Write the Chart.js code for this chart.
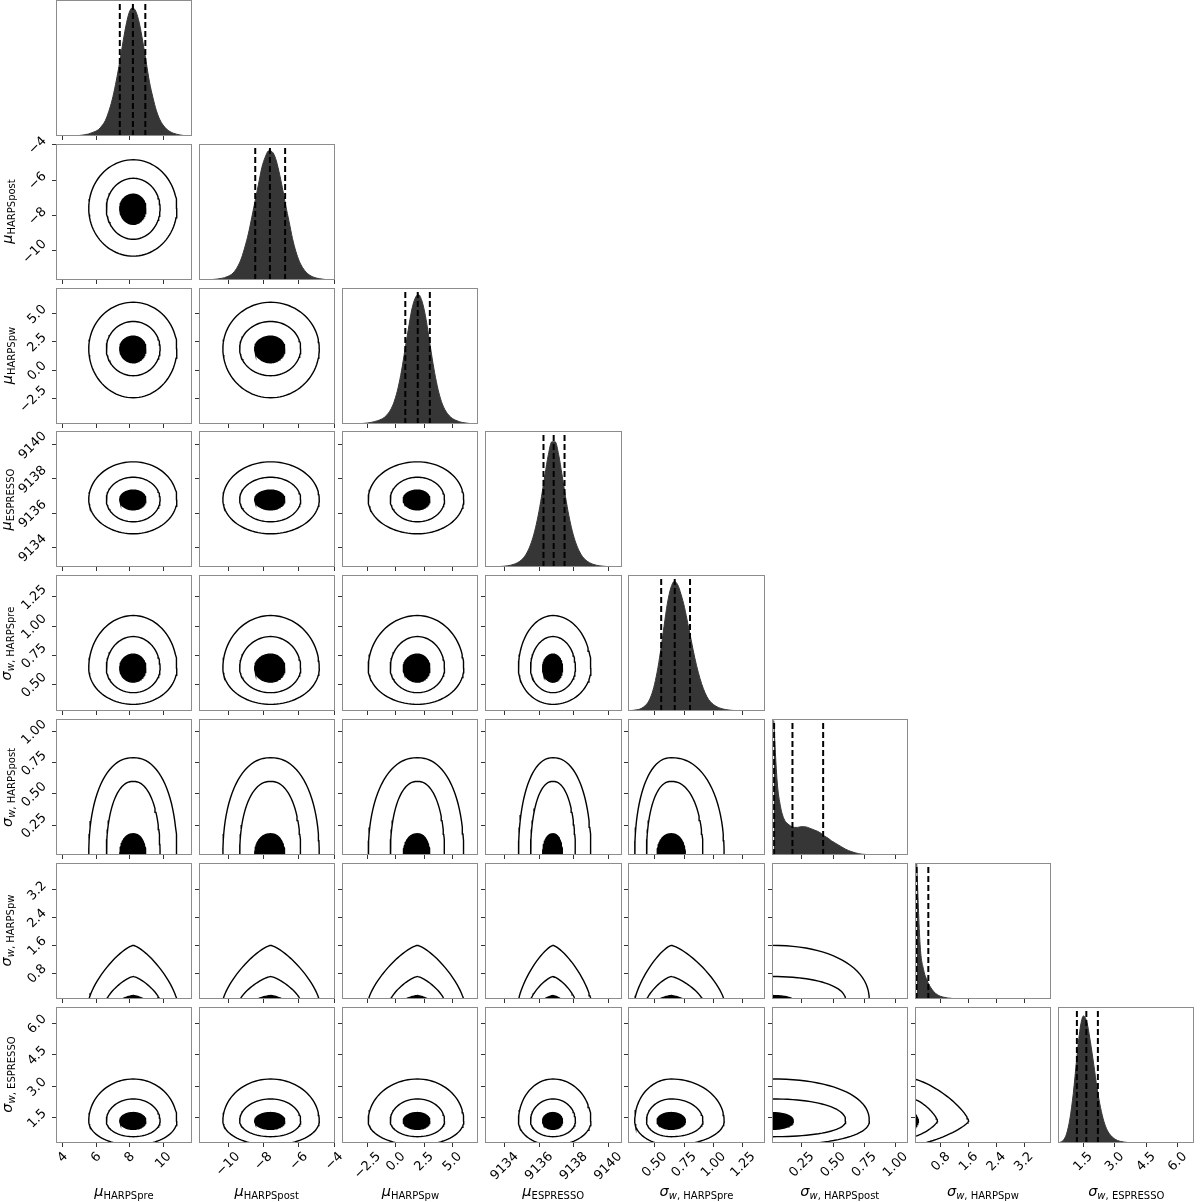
<!DOCTYPE html>
<html><head><meta charset="utf-8">
<script src="https://cdn.jsdelivr.net/npm/chart.js@4.4.1/dist/chart.umd.min.js"></script>
<style>
html,body{margin:0;padding:0;background:#fff;}
#wrap{position:relative;width:1200px;height:1202px;overflow:hidden;font-family:"DejaVu Sans",sans-serif;}
canvas{position:absolute;}
.xl,.yl{position:absolute;white-space:nowrap;font-size:14.5px;color:#000;line-height:16px;font-family:"DejaVu Sans",sans-serif;}
.xl sub,.yl sub{font-size:10px;vertical-align:-3px;}
</style></head><body><div id="wrap"></div>
<script>
// ---------------- DATA ----------------
const mainSym = ['μ','μ','μ','μ','σ','σ','σ','σ'];
const subText = ['HARPSpre','HARPSpost','HARPSpw','ESPRESSO','w, HARPSpre','w, HARPSpost','w, HARPSpw','w, ESPRESSO'];
const axisMin = [3.6, -11.65, -4.77, 9132.86, 0.273, 0.01, 0.05, 0.3];
const axisMax = [11.7, -3.96, 7.26, 9140.8, 1.437, 1.10, 3.98, 6.78];
const tickValues = [[4,6,8,10],[-10,-8,-6,-4],[-2.5,0,2.5,5],[9134,9136,9138,9140],[0.5,0.75,1,1.25],[0.25,0.5,0.75,1],[0.8,1.6,2.4,3.2],[1.5,3,4.5,6]];
const tickLabels = [['4','6','8','10'],['−10','−8','−6','−4'],['−2.5','0.0','2.5','5.0'],['9134','9136','9138','9140'],['0.50','0.75','1.00','1.25'],['0.25','0.50','0.75','1.00'],['0.8','1.6','2.4','3.2'],['1.5','3.0','4.5','6.0']];
// quantile lines (16%, 50%, 84%)
const quantiles = [[7.4,8.18,8.92],[-8.47,-7.64,-6.78],[0.83,1.93,3.0],[9136.25,9136.84,9137.47],[0.555,0.67,0.80],[0.027,0.174,0.42],[0.06,0.096,0.435],[1.2,1.65,2.2]];
// histogram heights (40 bins across each axis range)
const hist0 = [0,0,0,0,0,0,0.3,0.6,1.0,1.5,2.5,3.5,5,8,12,19,28,40,54,70,85,96,100,97,88,74,58,42,30,20,13,8.5,5.5,3.5,2.2,1.4,0.8,0.4,0.2,0.1];
const hist1 = [0,0,0.1,0.3,0.5,0.8,1.2,1.8,2.8,4.2,6.8,11,17,25.5,35.5,48,61,74,87,95,99.7,99,94,84,71.5,57.5,45,32,22,14.5,9.5,6,3.8,2.4,1.5,1.0,0.6,0.3,0.2,0.1];
const hist2 = [0,0,0,0.1,0.2,0.3,0.5,0.8,1.2,1.8,2.6,3.6,5.2,8,12,18.5,28,41,57,73,88,97,100,95,84,68,51,36,24,15.5,10,6.5,4.2,2.8,1.8,1.1,0.7,0.4,0.2,0.1];
const hist3 = [0.05,0.1,0.15,0.25,0.4,0.6,0.9,1.4,2.2,3.4,5.2,8,12.5,19,28,40,55,72,88,98,98,88,72,55,40,28,19,12.5,8,5.2,3.4,2.2,1.4,0.9,0.6,0.4,0.25,0.15,0.1,0.05];
const hist4 = [0.3,0.5,0.9,1.5,3,5.5,10,18,30,46,65,83,95,100,97.5,90,80,67,54,41,30,21,14,9,6,4,2.6,1.7,1.1,0.7,0.45,0.3,0.2,0.12,0.08,0.05,0.03,0.02,0.01,0];
const hist5 = [100,55,36,27,23.5,21.5,20.5,20.5,21,21,20.5,19.5,18.5,17.5,16,14,12.5,10.5,9,7.5,6,4.5,3.3,2.4,1.6,1.0,0.6,0.4,0.2,0.1,0,0,0,0,0,0,0,0,0,0];
const hist6 = [100,40,22,14,9,5.5,3.3,2,1.3,0.8,0.5,0.3,0.2,0.1,0,0,0,0,0,0,0,0,0,0,0,0,0,0,0,0,0,0,0,0,0,0,0,0,0,0];
const hist7 = [0.5,2,7,19,39,66,90,100,95,80,62,43,28,17,10,6,3.5,2,1.2,0.7,0.4,0.25,0.15,0.1,0.05,0,0,0,0,0,0,0,0,0,0,0,0,0,0,0];
const histograms = [hist0,hist1,hist2,hist3,hist4,hist5,hist6,hist7];
const histTop = [106,105,105,106.5,105,101,100.5,107];
// 2-D contour extents: centre and low/high reach of each level
const centers = [8.2, -7.6, 1.9, 9136.8, 0.64, 0, 0, 1.35];
const outerLo = [5.55, -10.3, -2.45, 9134.8, 0.33, -0.79, -1.6, 0.2];
const outerHi = [10.8, -4.85, 6.0, 9139.0, 1.09, 0.79, 1.6, 3.35];
const midLo = [6.6, -9.35, -0.5, 9135.5, 0.43, -0.6, -0.7, 0.6];
const midHi = [9.8, -5.9, 4.3, 9138.1, 0.91, 0.6, 0.7, 2.4];
const innerLo = [7.4, -8.5, 0.65, 9136.2, 0.52, -0.18, -0.15, 0.95];
const innerHi = [8.95, -6.8, 3.0, 9137.35, 0.76, 0.18, 0.15, 1.75];
// contour roundness read per variable (2 = elliptic, <2 = pointed, >2 = flat-topped)
const roundness = [2, 2, 2, 2, 2, 2.2, 1.35, 2];

// ---------------- LAYOUT ----------------
const NV = 8;
const PX0 = 55.5, PXS = 143.2, PW = 136.5;
const PY0 = 0, PYS = 143.8, PH = 136;
const FONT_T = 13;

function contour(xv, yv, lo, hi, n) {
  const pts = [];
  const rs = [roundness[xv], roundness[yv]];
  const p = rs.some(v => v > 2) ? Math.max(...rs) : Math.min(...rs);
  for (let k = 0; k <= n; k++) {
    const t = 2 * Math.PI * k / n;
    const c = Math.cos(t), s = Math.sin(t);
    const rx = c >= 0 ? hi[xv] - centers[xv] : centers[xv] - lo[xv];
    const ry = s >= 0 ? hi[yv] - centers[yv] : centers[yv] - lo[yv];
    const cc = Math.sign(c) * Math.pow(Math.abs(c), 2 / p);
    const ss = Math.sign(s) * Math.pow(Math.abs(s), 2 / p);
    pts.push({x: centers[xv] + rx * cc, y: centers[yv] + ry * ss});
  }
  return pts;
}

const deco = {
  id: 'deco',
  afterDraw(chart, args, o) {
    const ctx = chart.ctx, a = chart.chartArea;
    ctx.save();
    ctx.strokeStyle = '#8c8c8c'; ctx.lineWidth = 1;
    ctx.strokeRect(Math.round(a.left) + 0.5, Math.round(a.top) + 0.5, Math.round(a.right - a.left) - 1, Math.round(a.bottom - a.top) - 1);
    ctx.font = FONT_T + 'px "DejaVu Sans"'; ctx.fillStyle = '#000';
    ctx.textAlign = 'center'; ctx.textBaseline = 'middle';
    const r2 = Math.SQRT1_2;
    if (o.xVar !== undefined && o.xVar !== null) {
      const sc = chart.scales.x;
      tickValues[o.xVar].forEach((v, i) => {
        const t = tickLabels[o.xVar][i];
        const b = (ctx.measureText(t).width + FONT_T) * r2;
        ctx.save();
        ctx.translate(sc.getPixelForValue(v), a.bottom + 7 + b / 2);
        ctx.rotate(-Math.PI / 4); ctx.fillText(t, 0, 0); ctx.restore();
      });
    }
    if (o.yVar !== undefined && o.yVar !== null) {
      const sc = chart.scales.y;
      tickValues[o.yVar].forEach((v, i) => {
        const t = tickLabels[o.yVar][i];
        const b = (ctx.measureText(t).width + FONT_T) * r2;
        ctx.save();
        ctx.translate(a.left - 7 - b / 2, sc.getPixelForValue(v) + 1);
        ctx.rotate(-Math.PI / 4); ctx.fillText(t, 0, 0); ctx.restore();
      });
    }
    ctx.restore();
  }
};

function axisCfg(v, size, horiz) {
  return {
    type: 'linear', min: axisMin[v], max: axisMax[v], offset: false,
    afterBuildTicks: s => { s.ticks = tickValues[v].map(t => ({value: t})); },
    ticks: {display: false},
    grid: {drawOnChartArea: false, drawTicks: true, tickLength: 4, color: '#333', lineWidth: 1},
    border: {display: false},
    afterFit: s => { if (horiz) s.height = size; else s.width = size; }
  };
}

const wrap = document.getElementById('wrap');
for (let r = 0; r < NV; r++) {
  for (let c = 0; c <= r; c++) {
    const x0 = Math.round(PX0 + PXS * c), x1 = Math.round(PX0 + PXS * c + PW);
    const y0 = Math.round(PY0 + PYS * r), y1 = Math.round(PY0 + PYS * r + PH);
    const ML = c === 0 ? 55 : 6, MT = c === 0 ? 14 : 2, MR = r === NV - 1 ? 14 : 2, MB = r === NV - 1 ? 58 : 6;
    const cv = document.createElement('canvas');
    const W = ML + (x1 - x0) + MR, H = MT + (y1 - y0) + MB;
    cv.width = W; cv.height = H;
    cv.style.left = (x0 - ML) + 'px'; cv.style.top = (y0 - MT) + 'px';
    cv.style.width = W + 'px'; cv.style.height = H + 'px';
    wrap.appendChild(cv);
    const diag = r === c;
    let cfg;
    if (diag) {
      const v = r;
      const step = (axisMax[v] - axisMin[v]) / histograms[v].length;
      const pts = histograms[v].map((h, i) => ({x: axisMin[v] + step * (i + 0.5), y: h}));
      const ds = [{data: pts, showLine: true, fill: 'origin', backgroundColor: '#363636', borderColor: '#363636',
        borderWidth: 1, pointRadius: 0, tension: 0.35, cubicInterpolationMode: 'monotone', order: 2}];
      quantiles[v].forEach(q => ds.push({data: [{x: q, y: 0}, {x: q, y: histTop[v]}], showLine: true,
        borderColor: '#000', borderWidth: 2, borderDash: [6, 3], pointRadius: 0, fill: false, order: 1}));
      cfg = {type: 'scatter', data: {datasets: ds}, options: {
        responsive: false, animation: false, devicePixelRatio: 1,
        layout: {padding: {left: ML, top: MT, right: MR, bottom: 0}},
        plugins: {legend: {display: false}, tooltip: {enabled: false}, deco: {xVar: r === NV - 1 ? v : null, yVar: null}},
        scales: {x: axisCfg(v, MB, true), y: {display: false, min: 0, max: histTop[v]}}
      }, plugins: [deco]};
    } else {
      const xv = c, yv = r;
      const ds = [
        {data: contour(xv, yv, innerLo, innerHi, 96), fill: 'shape', backgroundColor: '#000'},
        {data: contour(xv, yv, midLo, midHi, 96), fill: false},
        {data: contour(xv, yv, outerLo, outerHi, 96), fill: false}
      ].map(d => Object.assign({showLine: true, borderColor: '#000', borderWidth: 1.4, pointRadius: 0, tension: 0}, d));
      cfg = {type: 'scatter', data: {datasets: ds}, options: {
        responsive: false, animation: false, devicePixelRatio: 1,
        layout: {padding: {left: 0, top: MT, right: MR, bottom: 0}},
        plugins: {legend: {display: false}, tooltip: {enabled: false},
          deco: {xVar: r === NV - 1 ? xv : null, yVar: c === 0 ? yv : null}},
        scales: {x: axisCfg(xv, MB, true), y: axisCfg(yv, ML, false)}
      }, plugins: [deco]};
    }
    new Chart(cv, cfg);
  }
}

function titleHTML(v) {
  const parts = subText[v].split(', ');
  const sub = parts.length > 1 ? '<i>' + parts[0] + '</i>, ' + parts[1] : parts[0];
  return '<i>' + mainSym[v] + '</i><sub>' + sub + '</sub>';
}
for (let v = 0; v < NV; v++) {
  const d = document.createElement('div');
  d.className = 'xl'; d.innerHTML = titleHTML(v);
  wrap.appendChild(d);
  const cx = PX0 + PXS * v + PW / 2;
  d.style.left = (cx - d.offsetWidth / 2) + 'px';
  d.style.top = '1183px';
  if (v > 0) {
    const e = document.createElement('div');
    e.className = 'yl'; e.innerHTML = titleHTML(v);
    wrap.appendChild(e);
    const cy = PY0 + PYS * v + PH / 2;
    const w = e.offsetWidth, h = e.offsetHeight;
    e.style.left = (9 - w / 2) + 'px';
    e.style.top = (cy - h / 2) + 'px';
    e.style.transform = 'rotate(-90deg)';
  }
}
</script></body></html>
